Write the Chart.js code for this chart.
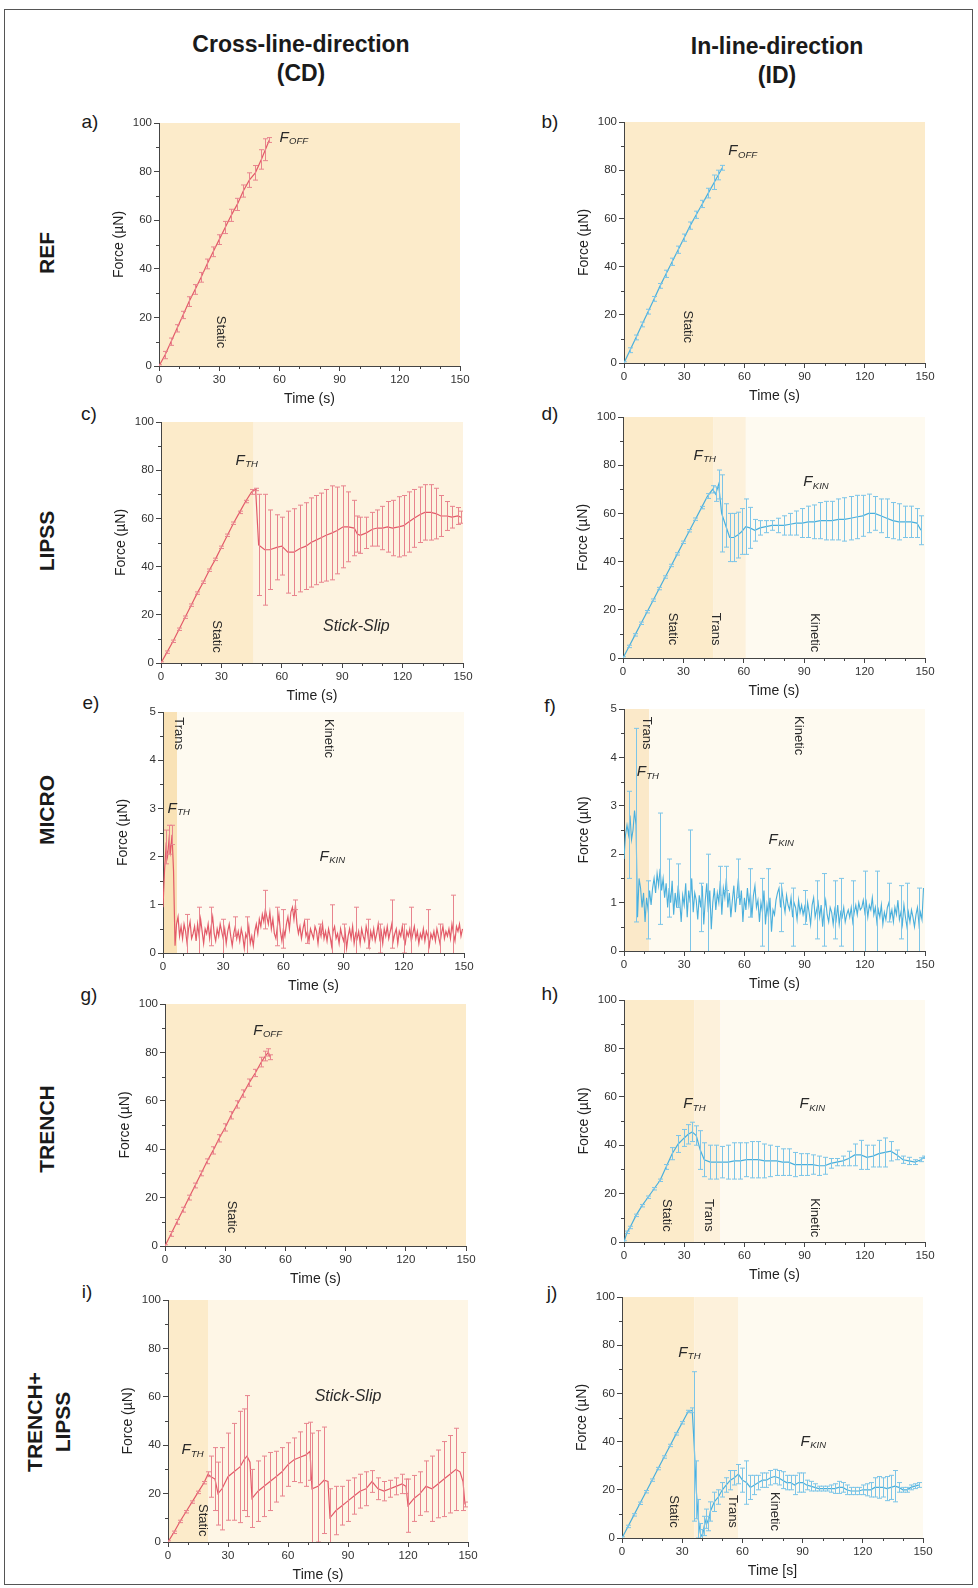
<!DOCTYPE html>
<html><head><meta charset="utf-8">
<script src="https://cdn.jsdelivr.net/npm/chart.js@4.4.1/dist/chart.umd.min.js"></script>
<style>
body{margin:0;background:#fff;}
#page{position:relative;width:978px;height:1588px;overflow:hidden;font-family:"Liberation Sans",Arial,sans-serif;color:#1a1a1a;}
.frame{position:absolute;left:4px;top:9px;width:969px;height:1576px;border:1px solid #555;box-sizing:border-box;}
.col{position:absolute;font-weight:bold;font-size:23px;text-align:center;transform:translate(-50%,-50%);white-space:nowrap;line-height:1;}
.row{position:absolute;font-weight:bold;font-size:21px;transform:translate(-50%,-50%) rotate(-90deg);white-space:nowrap;text-align:center;}
.lab{position:absolute;font-size:19px;transform:translate(-50%,-50%);line-height:1;}
canvas{position:absolute;}
</style></head>
<body><div id="page">
<div class="frame"></div>
<div class="col" style="left:301px;top:44px">Cross-line-direction</div>
<div class="col" style="left:301px;top:73px">(CD)</div>
<div class="col" style="left:777px;top:46px">In-line-direction</div>
<div class="col" style="left:777px;top:75px">(ID)</div>
<div class="row" style="left:46px;top:253px;line-height:1">REF</div>
<div class="row" style="left:46px;top:541px;line-height:1">LIPSS</div>
<div class="row" style="left:46px;top:810px;line-height:1">MICRO</div>
<div class="row" style="left:46px;top:1129px;line-height:1">TRENCH</div>
<div class="row" style="left:49px;top:1422px;line-height:28px">TRENCH+<br>LIPSS</div>
<div class="lab" style="left:90px;top:121px">a)</div>
<div class="lab" style="left:550px;top:121px">b)</div>
<div class="lab" style="left:89px;top:413px">c)</div>
<div class="lab" style="left:550px;top:413px">d)</div>
<div class="lab" style="left:91px;top:702px">e)</div>
<div class="lab" style="left:550px;top:705px">f)</div>
<div class="lab" style="left:89px;top:994px">g)</div>
<div class="lab" style="left:550px;top:993px">h)</div>
<div class="lab" style="left:87px;top:1291px">i)</div>
<div class="lab" style="left:552px;top:1292px">j)</div>
</div>
<script>
// ---------------- DATA ----------------
// a) CD REF
const aT = [0,3,6,9,12,15,18,21,24,27,30,33,36,39,42,45,48,51,53,55];
const aF = [0,4.5,10,15.5,21,26.5,31.5,36.5,42,47,52,57,62,66.5,72,76.5,79.5,85,89,93];
const aE = [0.5,1.5,1.5,1.5,1.5,2,2,2,2,2,2,2.5,2.5,2.5,2.5,3,3,4,4.5,1];
// b) ID REF
const bT = [0,3,6,9,12,15,18,21,24,27,30,33,36,39,42,45,47,49];
const bF = [0,5.3,10.6,16,21.3,26.6,32,37,42,47,52,57,61.5,66,70.5,75,78,81];
const bE = [0.5,1,1,1,1,1,1,1.5,1.5,1.5,1.5,1.5,1.5,1.5,2,3,2,1];
// c) CD LIPSS
const cT = [0,3,6,9,12,15,18,21,24,27,30,33,36,39,42,45,47,48.5,51.5,54,57.5,60,63,66,69,72,74.5,77,79.5,82,85,87.5,90.5,93,96,97.5,99,102,105,107.5,110,112.5,115,118,120.5,123,125.5,128.5,131,134,136.5,139,142,144.5,147.5,149];
const cF = [0,4.5,9,14,19,24,29,33.5,38.5,43,48,53,58,62.5,67,71,72,49,47,47,48,48.5,46,46,47.5,48.5,50,51,52,53,54,55,56.5,56.5,56,53.5,53,54,55.5,56,56,56.5,56,56.5,57,58.5,60,61.5,62.5,62.5,62,61,61,60.5,61,60.5];
const cE = [0.5,0.5,0.5,0.5,0.5,0.5,0.5,0.5,0.5,0.5,0.5,0.5,0.5,0.5,0.5,1,0.5,21,23,16.5,13.5,12,17,18,18,18,18.5,18.5,18.5,19,19.5,18,17,14.5,11.5,7.5,7.5,6.5,7,7.5,9,10.5,11.5,12.5,12.5,12.5,12,11.5,11.5,11.5,10.5,8.5,6,4.5,3.5,2.5];
// d) ID LIPSS
const dT = [0,3,6,9,12,15,18,21,24,27,30,33,36,39,42,44.5,46,47.5,49,51,53,55,57,59,61,63,65.5,68,71,74,77,80,83,86,89,92,95,98,101,104,107,110,113,116,119,122,125,128,131,134,137,140,143,146,148];
const dF = [0,4.8,9.6,14.4,19.2,24,28.8,33.6,38.4,43.2,48,52.8,57.6,62.4,67.2,70,68,72,60,55,50,50,51,52.5,54.5,54,53,54,54.5,55,55,55,55.5,56,56,56.5,56.5,57,57,57,57.5,57.5,58,58.5,59,60,60,59,58,57,56.5,56.5,56.5,56,53];
const dE = [0.5,0.5,0.5,0.5,0.5,0.5,0.5,0.5,0.5,0.5,0.5,0.5,0.5,0.5,1,1.5,3,6,16,9,10,10,9.5,9.5,11.5,8.5,4.5,3,2.5,2,3,4,4.5,5,6,6.5,7,7.5,8,8,8.5,9,9,9,8.5,8,7,7,8,7.5,7.5,6.5,6.5,6,6];
// e) CD MICRO (sampling interval eDt seconds)
const eDt = 0.75;
const eF = [0.95,1.7,2.2,2.0,2.35,2.1,2.45,1.7,0.15,0.6,
0.75,0.35,0.55,0.3,0.6,0.45,0.2,0.5,0.65,0.3,
0.4,0.55,0.25,0.6,0.35,0.7,0.45,0.2,0.5,0.4,
0.6,0.3,0.55,0.75,0.4,0.25,0.5,0.35,0.6,0.45,
0.3,0.5,0.2,0.45,0.6,0.35,0.15,0.4,0.55,0.3,
0.45,0.25,0.5,0.35,0.1,0.4,0.3,0.55,0.2,0.35,
0.15,0.45,0.6,0.4,0.7,0.55,0.8,0.65,0.9,0.75,
0.6,0.85,0.5,0.7,0.4,0.3,0.55,0.8,0.45,0.25,
0.5,0.35,0.6,0.75,0.5,0.85,0.95,0.7,1.0,0.6,
0.4,0.55,0.3,0.5,0.65,0.35,0.45,0.25,0.5,0.4,
0.3,0.55,0.45,0.2,0.5,0.35,0.6,0.3,0.45,0.25,
0.5,0.35,0.15,0.45,0.55,0.3,0.4,0.2,0.5,0.35,
0.25,0.45,0.1,0.35,0.5,0.3,0.55,0.2,0.4,0.3,
0.45,0.2,0.5,0.35,0.25,0.55,0.4,0.15,0.45,0.3,
0.5,0.25,0.4,0.6,0.3,0.45,0.2,0.5,0.35,0.55,
0.3,0.45,0.6,0.25,0.4,0.5,0.2,0.45,0.35,0.55,
0.3,0.2,0.45,0.35,0.5,0.25,0.4,0.55,0.3,0.45,
0.2,0.4,0.3,0.5,0.25,0.45,0.35,0.15,0.4,0.3,
0.45,0.25,0.5,0.35,0.2,0.4,0.55,0.3,0.45,0.35,
0.5,0.3,0.6,0.4,0.25,0.55,0.45,0.6,0.35,0.5];
const eErrIdx = [2,4,6,16,24,32,40,48,56,68,76,80,88,96,104,112,120,128,136,144,152,160,165,176,184,193];
const eErrVal = [0.35,0.3,0.2,0.6,0.6,0.4,0.4,0.2,0.45,0.4,0.4,0.4,0.1,0.25,0.1,0.85,0.35,0.55,0.3,0.3,0.5,0.3,0.7,0.55,0.4,0.8];
// f) ID MICRO
const fDt = 0.75;
const fF = [1.9,2.4,2.6,2.4,2.8,2.3,2.5,2.9,2.6,0.7,
1.5,1.3,0.9,1.2,0.6,1.1,0.85,1.25,0.95,1.3,
1.5,1.2,1.6,1.35,1.7,1.25,1.5,1.1,1.4,0.9,
1.3,1.0,1.45,0.75,1.2,0.9,1.35,1.05,0.6,1.15,
0.95,1.4,0.7,1.25,1.0,1.5,0.8,1.2,1.05,0.65,
1.15,0.9,1.35,0.55,1.05,1.4,0.8,1.25,0.45,1.0,
1.3,0.85,1.2,1.0,1.45,0.75,1.3,1.1,1.5,0.9,
1.2,0.7,1.05,1.35,0.8,1.15,1.5,0.95,1.25,0.6,
1.1,0.85,1.3,0.95,1.2,0.7,1.15,1.35,0.9,1.05,
0.6,1.0,0.8,1.25,0.55,0.95,0.7,1.1,0.4,0.85,
0.75,1.05,1.2,1.3,0.9,1.25,1.0,0.8,1.15,0.95,
0.85,1.1,0.7,1.0,0.9,0.65,1.05,0.8,0.95,0.75,
0.9,0.6,1.0,0.8,0.55,0.95,1.1,0.7,0.85,1.0,
0.7,0.95,0.5,0.85,1.05,0.75,0.6,0.9,0.8,0.55,
0.85,0.65,0.95,0.55,0.8,0.7,0.9,0.6,0.75,0.85,
0.7,0.9,0.6,0.8,0.95,0.75,1.0,0.85,0.9,1.05,
0.8,1.0,0.7,0.95,0.85,1.1,0.75,0.9,0.6,0.85,
0.7,0.95,0.55,0.8,0.65,0.9,1.0,0.7,0.85,0.6,
0.9,0.75,1.05,0.65,0.8,0.55,0.95,0.7,0.5,0.8,
0.6,0.85,0.7,0.5,0.75,0.9,0.55,0.8,0.65,1.3];
const fErrIdx = [3,8,16,24,30,36,44,51,56,64,68,76,84,92,96,104,112,120,128,133,140,144,152,160,168,176,184,188,196];
const fErrVal = [0.9,2.0,0.6,1.15,0.6,0.45,1.5,0.5,1.2,0.3,0.25,0.4,0.5,0.7,1.0,0.5,0.6,0.35,0.6,0.75,0.6,0.7,0.85,0.85,1.05,0.4,0.55,0.9,0.75];
// g) CD TRENCH
const gT = [0,3,6,9,12,15,18,21,24,27,30,33,36,39,42,45,48,50,51.5,52.5];
const gF = [0,5,10,15,20,25,30,35,39.5,44.5,49,54,58.5,63,67.5,71.5,76,78.5,80,78];
const gE = [0.5,1,1,1,1,1,1,1,1.5,1.5,1.5,1.5,1.5,1.5,1.5,1.5,2,2,1.5,1];
// h) ID TRENCH
const hT = [0,1.5,3,6,9,12,15,18,21,24,27,30,32,34,36,38,40,43,46,49,52,55,58,61,64,67,70,73,76,79,82,85,88,91,94,97,100,103,106,109,112,115,118,121,124,127,130,133,136,139,142,145,148,149.5];
const hF = [0,4,6,11,15,18.5,22,25.5,31,36.5,40.5,43,44.5,45.5,44,38,34,33,33,33,33,33.5,33.5,34,34,34,33.5,33.5,33.5,33,33,32,32,32,32,31.5,31.5,32.5,33,33.5,34.5,36,36,35,35.5,36.5,37,37.5,36,34,33.5,33,34,35];
const hE = [0.5,0.5,0.5,0.5,0.5,0.5,0.5,0.5,1,2.5,3.5,3.5,4,4,4,8,7,7,7,6.5,7,7.5,7.5,7,7.5,7.5,7,6.5,6,5.5,5.5,5,4.5,4.5,4,4,3.5,2,1.5,2,3,4.5,6,5,4.5,5.5,6,4,2,1.5,1.5,1,0.8,0.5];
// i) CD TRENCH+LIPSS
const iT = [0,3,6,9,12,15,18,20,21.5,23.5,25,27,30,33,36,38,39.5,41,42,45,48,51,54,57,60,63,66,69,71,72,75,78,80,81,84,87,90,93,96,99,102,105,108,111,114,117,119,120,123,126,129,132,135,138,141,144,146,147.5,148.5];
const iF = [0,4,8.5,12.5,16.5,20.5,24.5,28,27,26,20,22,27,29,31,34,35.5,33,18,21,23,25,27,29,32,34,35,36,37.5,22,23,25.5,25,10,13,15,17,19,21,22,25,22,21,22,23,24,23,15,18,20,23,22,24,26,28,30,29,25,15.5];
const iE = [0.5,0.5,0.5,0.5,0.5,0.5,0.5,1,8.5,13,13,17,18,20,23,21,25,0,12,12.5,12.5,12,10.5,10,9,9,10.5,13,12,23,23,22,0,12,10,8,8.5,7.5,7,7,4.5,4.5,4,3.5,3.5,4,3,11,9.5,9,10.5,13.5,14,15.5,16,17,0,12,1];
// j) ID TRENCH+LIPSS
const jT = [0,3,6,9,12,15,18,21,24,27,30,33,35,36,37,38,39,40,41,42,43,44,46,48,50,52,54,56,58,60,62,64,66,68,70,72,74,76,78,80,82,84,86,88,90,92,94,96,98,100,102,104,106,108,110,112,114,116,118,120,122,124,126,128,130,132,134,136,138,140,142,144,146,148];
const jF = [0,4.8,9.6,14.4,19.2,24,28.8,33.6,38.4,43.2,47.8,52.5,53,38,20,8,2,0.5,5,8,6,11,15,17,20,22,24,25,26.5,24,23,21,22,23,24,24,25,25.5,25,24,23,23,22,23,23,22,21.5,21,20.5,20.5,20.5,20.5,20.5,21,21,20,19.5,19.5,19.5,20,20,20,21,21,21,20.5,21,21.5,21,20,20,21,21.5,22];
const jE = [0.5,0.5,0.5,0.5,0.5,0.5,0.5,0.5,0.5,0.5,0.5,0.5,1,31,12,8,4,3,4,4,3,4,4,3,3,3,4,3,4,5,9,5,4,3,3,3,3,3,3,3.5,3,3,4,4,4,2,2,1.5,1,1,1,1.5,2,2.5,2,2,1.5,1.5,1.5,2,2.5,3,4,4.5,4,5,5,6.5,2,1,1,1,1,1];
// axis ticks
const xTicks = {min:0, max:150, major:30, minor:10};
const yTicksN = {min:0, max:100, major:20, minor:10};
const yTicksS = {min:0, max:5, major:1, minor:0.5};

// ---------------- STYLE ----------------
const FONT = '"Liberation Sans", Arial, sans-serif';
Chart.defaults.font.family = FONT;
const CD_LINE = '#e35a68', CD_ERR = '#e8848e';
const ID_LINE = '#49afdc', ID_ERR = '#7cc5e8';
const ST = '#fcebca', TR = '#fdf1db', KI = '#fefaf0', SS = '#fdf3e0';

const seq = (arr, dt) => arr.map((_, i) => i * dt);
const eT = seq(eF, eDt), fT = seq(fF, fDt);

const F = (x, y, sub) => ({x, y, sub});
const R = (text, x, y) => ({text, x, y, rot: true, size: 13});
const Tx = (text, x, y) => ({text, x, y, it: true, size: 16});

const panels = [
 {box:[159,123,460,366], t:aT, v:aF, e:aE, col:'cd', y:yTicksN, bands:[[0,150,ST]],
  ann:[F(60,94,'OFF'), R('Static',30.5,14)]},
 {box:[624,122,925,363], t:bT, v:bF, e:bE, col:'id', y:yTicksN, bands:[[0,150,ST]],
  ann:[F(52,88,'OFF'), R('Static',31.5,15)]},
 {box:[161,422,463,663], t:cT, v:cF, e:cE, col:'cd', y:yTicksN, bands:[[0,46,ST],[46,150,SS]],
  ann:[F(37,84,'TH'), R('Static',27.5,11), Tx('Stick-Slip',97,15)]},
 {box:[623,417,925,658], t:dT, v:dF, e:dE, col:'id', y:yTicksN, bands:[[0,45,ST],[45,61,TR],[61,150,KI]],
  ann:[F(35,84,'TH'), F(89.5,73,'KIN'), R('Static',24.5,12), R('Trans',46,12), R('Kinetic',95,10.5)]},
 {box:[163,712,464,953], t:eT, v:eF, eIdx:eErrIdx, eVal:eErrVal, col:'cd', lw:1.2, y:yTicksS, bands:[[0,7,'#f9e2b6'],[7,150,KI]],
  ann:[F(2.3,3.0,'TH'), F(78,2.0,'KIN'), R('Trans',8,4.55), R('Kinetic',82.5,4.45)]},
 {box:[624,709,925,951], t:fT, v:fF, eIdx:fErrIdx, eVal:fErrVal, col:'id', lw:1.1, y:yTicksS, bands:[[0,12.5,'#fbe9c9'],[12.5,150,KI]],
  ann:[F(6.3,3.7,'TH'), F(72,2.3,'KIN'), R('Trans',11.3,4.5), R('Kinetic',87,4.45)]},
 {box:[165,1004,466,1246], t:gT, v:gF, e:gE, col:'cd', y:yTicksN, bands:[[0,150,ST]],
  ann:[F(44,89,'OFF'), R('Static',33,12)]},
 {box:[624,1000,925,1242], t:hT, v:hF, e:hE, col:'id', y:yTicksN, bands:[[0,35,ST],[35,48,TR],[48,150,KI]],
  ann:[F(29.5,57,'TH'), F(87.5,57,'KIN'), R('Static',21,11), R('Trans',42,11), R('Kinetic',95,10)]},
 {box:[168,1300,468,1542], t:iT, v:iF, e:iE, col:'cd', y:yTicksN, bands:[[0,20,ST],[20,150,'#fef6e6']],
  ann:[F(6.7,38,'TH'), R('Static',17.5,9), Tx('Stick-Slip',90,60)]},
 {box:[622,1297,923,1538], t:jT, v:jF, e:jE, col:'id', y:yTicksN, bands:[[0,36,ST],[36,58,TR],[58,150,KI]], xtitle:'Time [s]',
  ann:[F(28,77,'TH'), F(89,40,'KIN'), R('Static',25.7,11), R('Trans',55,11), R('Kinetic',76,11)]}
];

function makePlugins(p) {
  const lineCol = p.col === 'cd' ? CD_LINE : ID_LINE;
  const errCol = p.col === 'cd' ? CD_ERR : ID_ERR;
  const errs = [];
  if (p.e) p.e.forEach((e, i) => errs.push([i, e]));
  else p.eIdx.forEach((i, k) => errs.push([i, p.eVal[k]]));
  const bands = {id:'bands', beforeDraw(ch) {
    const {ctx, chartArea:a, scales:{x}} = ch;
    ctx.save();
    p.bands.forEach(b => {
      const x0 = x.getPixelForValue(b[0]), x1 = x.getPixelForValue(b[1]);
      ctx.fillStyle = b[2];
      ctx.fillRect(x0, a.top, x1 - x0, a.bottom - a.top);
    });
    ctx.restore();
  }};
  const errbars = {id:'errbars', afterDatasetsDraw(ch) {
    const {ctx, chartArea:a, scales:{x, y}} = ch;
    ctx.save();
    ctx.beginPath(); ctx.rect(a.left, a.top - 3, a.right - a.left, a.bottom - a.top + 3); ctx.clip();
    ctx.strokeStyle = errCol; ctx.lineWidth = 1;
    errs.forEach(([i, e]) => {
      if (!e) return;
      const px = Math.round(x.getPixelForValue(p.t[i])) + 0.5;
      const top = y.getPixelForValue(p.v[i] + e), bot = y.getPixelForValue(p.v[i] - e);
      ctx.beginPath();
      ctx.moveTo(px, bot); ctx.lineTo(px, top);
      ctx.moveTo(px - 2.5, top); ctx.lineTo(px + 2.5, top);
      ctx.moveTo(px - 2.5, bot); ctx.lineTo(px + 2.5, bot);
      ctx.stroke();
    });
    ctx.restore();
  }};
  const ann = {id:'ann', afterDatasetsDraw(ch) {
    const {ctx, scales:{x, y}} = ch;
    ctx.save();
    ctx.fillStyle = '#2a2a2a';
    p.ann.forEach(a => {
      const px = x.getPixelForValue(a.x), py = y.getPixelForValue(a.y);
      if (a.sub) {
        ctx.textAlign = 'left'; ctx.textBaseline = 'middle';
        ctx.font = 'italic 15px ' + FONT;
        ctx.fillText('F', px, py);
        const w = ctx.measureText('F').width;
        ctx.font = 'italic 9.5px ' + FONT;
        ctx.fillText(a.sub, px + w + 0.5, py + 4);
      } else {
        ctx.save();
        ctx.translate(px, py);
        if (a.rot) ctx.rotate(Math.PI / 2);
        ctx.font = (a.it ? 'italic ' : '') + a.size + 'px ' + FONT;
        ctx.textAlign = 'center'; ctx.textBaseline = 'middle';
        ctx.fillText(a.text, 0, 0);
        ctx.restore();
      }
    });
    ctx.restore();
  }};
  const minor = {id:'minor', afterDraw(ch) {
    const {ctx, chartArea:a, scales:{x, y}} = ch;
    ctx.save();
    ctx.strokeStyle = '#444'; ctx.lineWidth = 1;
    ctx.beginPath();
    for (let v = xTicks.min; v <= xTicks.max + 1e-9; v += xTicks.minor) {
      if (Math.abs(v / xTicks.major - Math.round(v / xTicks.major)) < 1e-6) continue;
      const px = Math.round(x.getPixelForValue(v)) + 0.5;
      ctx.moveTo(px, a.bottom); ctx.lineTo(px, a.bottom + 3);
    }
    const yt = p.y;
    for (let k = 0; yt.min + k * yt.minor <= yt.max + 1e-9; k++) {
      const v = yt.min + k * yt.minor;
      if (Math.abs(v / yt.major - Math.round(v / yt.major)) < 1e-6) continue;
      const py = Math.round(y.getPixelForValue(v)) + 0.5;
      ctx.moveTo(a.left, py); ctx.lineTo(a.left - 3, py);
    }
    ctx.stroke();
    ctx.restore();
  }};
  return {lineCol, list:[bands, errbars, ann, minor]};
}

const page = document.getElementById('page');
const padL = 52, padT = 14, padR = 22, padB = 46;
panels.forEach(p => {
  const [L, T, Rr, B] = p.box;
  const w = Rr - L + padL + padR, h = B - T + padT + padB;
  const cv = document.createElement('canvas');
  cv.width = w; cv.height = h;
  cv.style.left = (L - padL) + 'px'; cv.style.top = (T - padT) + 'px';
  cv.style.width = w + 'px'; cv.style.height = h + 'px';
  page.appendChild(cv);
  const pl = makePlugins(p);
  const axisCommon = {
    grid:{drawOnChartArea:false, drawTicks:true, tickLength:5, color:'#444'},
    border:{display:true, color:'#444', width:1}
  };
  new Chart(cv, {
    type:'line',
    data:{datasets:[{data:p.t.map((t, i) => ({x:t, y:p.v[i]})), borderColor:pl.lineCol, borderWidth:p.lw || 1.2, pointRadius:0, tension:0, fill:false}]},
    options:{
      responsive:false, animation:false, devicePixelRatio:1,
      layout:{padding:{left:0, top:padT, right:padR, bottom:0}},
      plugins:{legend:{display:false}, tooltip:{enabled:false}},
      scales:{
        x:Object.assign({type:'linear', min:xTicks.min, max:xTicks.max,
          afterFit:s => { s.height = padB; },
          ticks:{stepSize:xTicks.major, font:{size:11.5}, color:'#333', maxRotation:0, autoSkip:false, padding:2},
          title:{display:true, text:p.xtitle || 'Time (s)', font:{size:14}, color:'#222', padding:{top:0, bottom:4}}}, axisCommon),
        y:Object.assign({type:'linear', min:p.y.min, max:p.y.max,
          afterFit:s => { s.width = padL; },
          ticks:{stepSize:p.y.major, font:{size:11.5}, color:'#333', autoSkip:false, padding:2},
          title:{display:true, text:'Force (µN)', font:{size:14}, color:'#222', padding:{top:4, bottom:0}}}, axisCommon)
      }
    },
    plugins:pl.list
  });
});
</script>
</body></html>
